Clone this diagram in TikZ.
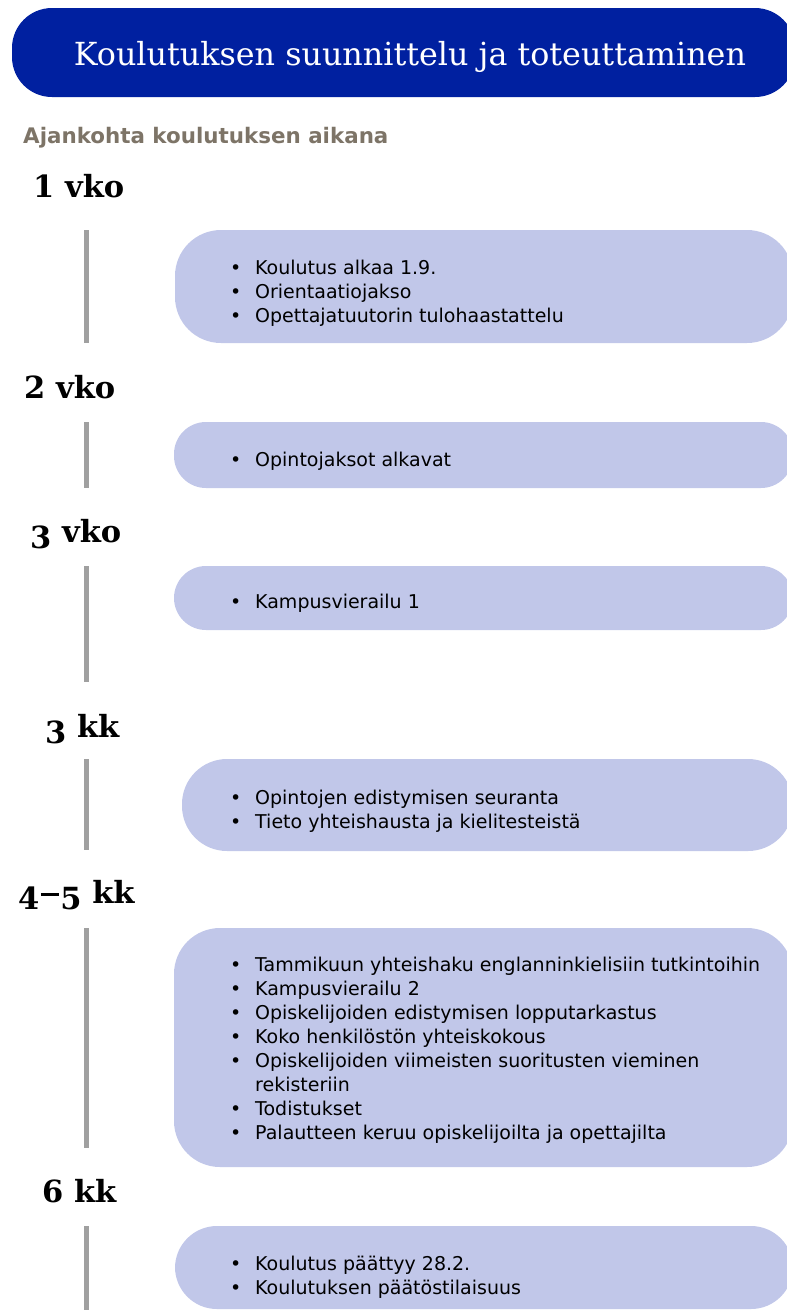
\documentclass[tikz,border=0pt]{standalone}
\usepackage{fontspec}
\setmainfont{DejaVu Sans}
\newfontfamily\titlefont{DejaVu Serif}
\newfontfamily\wkfont{DejaVu Serif}
\definecolor{hdrblue}{RGB}{0,32,160}
\definecolor{boxfill}{RGB}{193,199,233}
\definecolor{linegray}{RGB}{160,160,160}
\definecolor{subgray}{RGB}{125,116,103}
\newcommand\itm[1]{\makebox[25pt][l]{\textbullet}#1}
\newcommand\dn[1]{\raisebox{-6pt}{#1}}
\newcommand\wdash{\hspace{1.5pt}\rule[7.5pt]{18pt}{2.6pt}\hspace{1.5pt}}
\begin{document}
\begin{tikzpicture}[x=1pt,y=-1pt,
  hdr/.style={fill=hdrblue, rounded corners=40, inner sep=0, minimum width=783, minimum height=89},
  evbox/.style={fill=boxfill, inner sep=0},
  wk/.style={font=\wkfont\bfseries\fontsize{30.5}{30.5}\selectfont, anchor=base west, inner sep=0},
  evlist/.style={font=\fontsize{19}{24}\selectfont, anchor=west, inner sep=0, align=left},
  tl/.style={draw=linegray, line width=5}]
\useasboundingbox (0,0) rectangle (787,1310);
\clip (0,0) rectangle (787,1310);
% header
\node[hdr] (hdr) at (403.5,52.5) {};
\node[font=\titlefont\fontsize{30}{30}\selectfont, text=white, anchor=base, inner sep=0] (title) at (410,65) {\resizebox{672pt}{!}{Koulutuksen suunnittelu ja toteuttaminen}};
\node[font=\bfseries\fontsize{21.4}{21.4}\selectfont, text=subgray, anchor=base west, inner sep=0] (sub) at (23,143) {Ajankohta koulutuksen aikana};
% week labels
\node[wk] (w1) at (33,197) {1 vko};
\node[wk] (w2) at (24,398) {2 vko};
\node[wk] (w3) at (30,542) {\dn{3} vko};
\node[wk] (w4) at (45,737) {\dn{3} kk};
\node[wk] (w5) at (18,903) {\dn{4}\wdash\dn{5} kk};
\node[wk] (w6) at (42,1202) {6 kk};
% timeline segments
\coordinate (l1a) at (86,230); \coordinate (l1b) at (86,343);
\coordinate (l2a) at (86,422); \coordinate (l2b) at (86,488);
\coordinate (l3a) at (86,566); \coordinate (l3b) at (86,682);
\coordinate (l4a) at (86,759); \coordinate (l4b) at (86,850);
\coordinate (l5a) at (86,928); \coordinate (l5b) at (86,1148);
\coordinate (l6a) at (86,1226); \coordinate (l6b) at (86,1312);
\draw[tl] (l1a) -- (l1b);
\draw[tl] (l2a) -- (l2b);
\draw[tl] (l3a) -- (l3b);
\draw[tl] (l4a) -- (l4b);
\draw[tl] (l5a) -- (l5b);
\draw[tl] (l6a) -- (l6b);
% boxes
\node[evbox, rounded corners=46, minimum width=618, minimum height=113] (b1) at (484,286.5) {};
\node[evbox, rounded corners=32, minimum width=619, minimum height=66] (b2) at (483.5,455) {};
\node[evbox, rounded corners=32, minimum width=619, minimum height=64] (b3) at (483.5,598) {};
\node[evbox, rounded corners=45, minimum width=611, minimum height=92] (b4) at (487.5,805) {};
\node[evbox, rounded corners=46, minimum width=619, minimum height=239] (b5) at (483.5,1047.5) {};
\node[evbox, rounded corners=42, minimum width=618, minimum height=83] (b6) at (484,1267.5) {};
% lists
\node[evlist] (t1) at (230,293) {\itm{Koulutus alkaa 1.9.}\\\itm{Orientaatiojakso}\\\itm{Opettajatuutorin tulohaastattelu}};
\node[evlist] (t2) at (230,461) {\itm{Opintojaksot alkavat}};
\node[evlist] (t3) at (230,603) {\itm{Kampusvierailu 1}};
\node[evlist] (t4) at (230,811) {\itm{Opintojen edistymisen seuranta}\\\itm{Tieto yhteishausta ja kielitesteistä}};
\node[evlist] (t5) at (230,1050) {\itm{Tammikuun yhteishaku englanninkielisiin tutkintoihin}\\\itm{Kampusvierailu 2}\\\itm{Opiskelijoiden edistymisen lopputarkastus}\\\itm{Koko henkilöstön yhteiskokous}\\\itm{Opiskelijoiden viimeisten suoritusten vieminen}\\\hspace*{25pt}rekisteriin\\\itm{Todistukset}\\\itm{Palautteen keruu opiskelijoilta ja opettajilta}};
\node[evlist] (t6) at (230,1277) {\itm{Koulutus päättyy 28.2.}\\\itm{Koulutuksen päätöstilaisuus}};
\end{tikzpicture}
\end{document}
